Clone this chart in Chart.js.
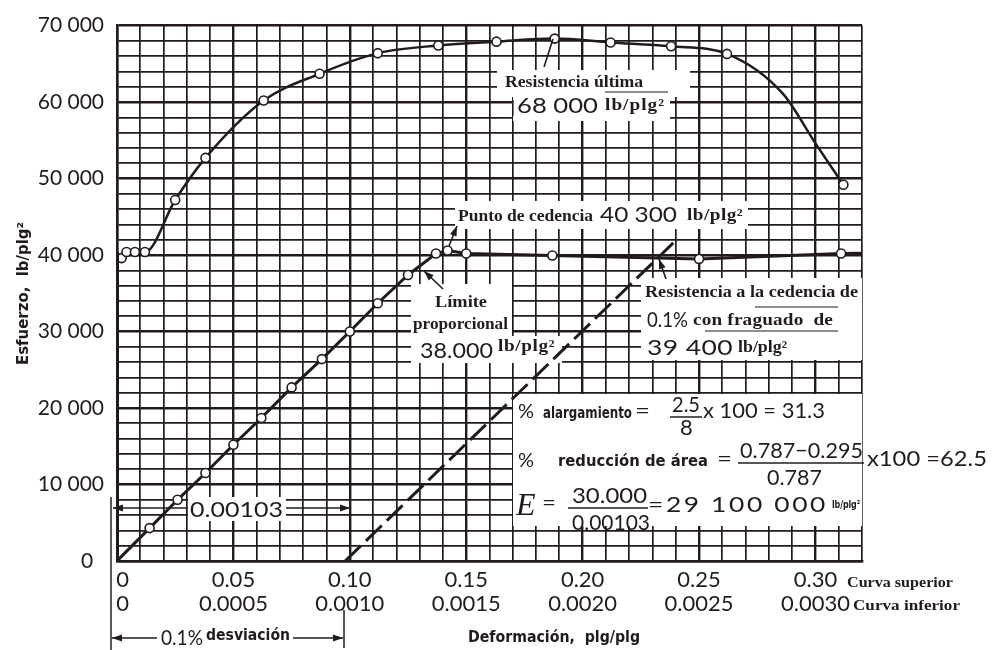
<!DOCTYPE html>
<html>
<head>
<meta charset="utf-8">
<script src="https://cdn.jsdelivr.net/npm/chart.js@4.4.1/dist/chart.umd.min.js"></script>
<style>
  html, body { margin: 0; padding: 0; background: #fff; }
</style>
</head>
<body>
<canvas id="stressChart" width="995" height="650"></canvas>
<script>
// Curva superior: deformación 0 - 0.32 (escala de arriba)
const upperStrain = [0, 0.002, 0.0041, 0.0077, 0.012, 0.025, 0.038, 0.063, 0.087, 0.112, 0.138, 0.163, 0.188, 0.212, 0.238, 0.262, 0.286, 0.300, 0.312];
const upperStress = [40400, 39600, 40400, 40400, 40400, 47200, 52700, 60200, 63700, 66400, 67400, 67900, 68300, 67800, 67300, 66300, 61100, 54600, 49200];
// puntos de la curva leídos sin círculo
const upperNoMark = [0, 16, 17];
// tramo elástico de la curva superior (casi vertical a esta escala)
const upperElasticStrain = [0, 0];
const upperElasticStress = [0, 40400];

// Curva inferior: deformación 0 - 0.0032 (escala de abajo)
const lowerStrain = [0, 0.00014, 0.00026, 0.00038, 0.00050, 0.00062, 0.00075, 0.00088, 0.00100, 0.00112, 0.00125, 0.00137, 0.00142, 0.00150, 0.00187, 0.00250, 0.00311, 0.00320];
const lowerStress = [0, 4300, 8000, 11500, 15200, 18700, 22700, 26400, 30000, 33700, 37400, 40200, 40600, 40200, 39950, 39500, 40200, 40250];
const lowerNoMark = [0, 17];

// línea de 0.1% de desviación (paralela al tramo elástico)
const offsetStrain = [0.00098, 0.0024];
const offsetStress = [0, 41900];

// ejes
const upperTickLabels = ['  0', '0.05', '0.10', '0.15', '0.20', '0.25', '0.30'];
const lowerTickLabels = ['  0', '0.0005', '0.0010', '0.0015', '0.0020', '0.0025', '0.0030'];
const stressTickLabels = ['0  ', '10 000', '20 000', '30 000', '40 000', '50 000', '60 000', '70 000'];

const INK = '#231b1b';
const SANS = 'Lato, "Noto Sans", sans-serif';
const SERIF = '"Liberation Serif", "DejaVu Serif", serif';
const COND = '"DejaVu Sans Condensed", "Liberation Sans Narrow", "DejaVu Sans", sans-serif';

function pts(xs, ys) {
  return xs.map((x, i) => ({ x: x, y: ys[i] }));
}

// texto (left, baseline) ajustado a un ancho: escala horizontal limitada + espaciado
function fit(ctx, str, x, y, font, width) {
  ctx.save();
  ctx.font = font;
  ctx.fillStyle = INK;
  ctx.textAlign = 'left';
  ctx.textBaseline = 'alphabetic';
  ctx.letterSpacing = '0px';
  const w = ctx.measureText(str).width;
  ctx.translate(x, y);
  if (width) {
    const sx = Math.max(0.8, Math.min(1.2, width / w));
    ctx.scale(sx, 1);
    const extra = (width / sx - w) / str.length;
    ctx.letterSpacing = extra.toFixed(2) + 'px';
  }
  ctx.fillText(str, 0, 0);
  ctx.restore();
}

function line(ctx, x1, y1, x2, y2, w) {
  ctx.save();
  ctx.strokeStyle = INK;
  ctx.lineWidth = w || 1.5;
  ctx.beginPath();
  ctx.moveTo(x1, y1);
  ctx.lineTo(x2, y2);
  ctx.stroke();
  ctx.restore();
}

function arrow(ctx, x1, y1, x2, y2, w) {
  line(ctx, x1, y1, x2, y2, w);
  const a = Math.atan2(y2 - y1, x2 - x1);
  const L = 10, H = 3.5;
  ctx.save();
  ctx.fillStyle = INK;
  ctx.beginPath();
  ctx.moveTo(x2, y2);
  ctx.lineTo(x2 - L * Math.cos(a) + H * Math.sin(a), y2 - L * Math.sin(a) - H * Math.cos(a));
  ctx.lineTo(x2 - L * Math.cos(a) - H * Math.sin(a), y2 - L * Math.sin(a) + H * Math.cos(a));
  ctx.closePath();
  ctx.fill();
  ctx.restore();
}

const notes = {
  id: 'notes',
  beforeDatasetsDraw(chart) {
    const ctx = chart.ctx;
    ctx.save();
    ctx.fillStyle = '#fff';
    ctx.fillRect(497, 70, 193, 27);   // resistencia última
    ctx.fillRect(513, 95, 157, 26);
    ctx.fillRect(455, 201, 293, 28);  // punto de cedencia
    ctx.fillRect(411, 284, 101, 54);  // límite proporcional
    ctx.fillRect(411, 336, 151, 27);
    ctx.fillRect(641, 278, 221, 82);  // resistencia a la cedencia
    ctx.fillRect(513, 394, 349, 132); // fórmulas
    ctx.fillRect(188, 497, 98, 24);   // 0.00103
    ctx.restore();
  },
  afterDatasetsDraw(chart) {
    const ctx = chart.ctx;
    const num = '22px ' + SANS;
    const sb = 'bold 16px ' + SERIF;
    const cb = 'bold 15px ' + COND;

    // Resistencia última
    fit(ctx, 'Resistencia última', 505, 87, sb, 138);
    line(ctx, 605, 92, 668, 92, 1.2);
    line(ctx, 513, 100, 513, 116, 1.2);
    fit(ctx, '68 000', 517, 113, num, 81);
    fit(ctx, 'lb/plg²', 605, 110, 'bold 16px ' + SERIF, 60);
    line(ctx, 544, 67, 553, 39, 1.6);

    // Punto de cedencia
    fit(ctx, 'Punto de cedencia', 458, 221, sb, 135);
    fit(ctx, '40 300', 600, 222, num, 77);
    fit(ctx, 'lb/plg²', 687, 220, sb, 56);
    arrow(ctx, 449, 246, 457, 226, 1.6);

    // Límite proporcional
    fit(ctx, 'Límite', 435, 307, sb, 52);
    fit(ctx, 'proporcional', 413, 329, sb, 95);
    fit(ctx, '38.000', 420, 358, num, 73);
    fit(ctx, 'lb/plg²', 498, 351, 'bold 16px ' + SERIF, 57);
    arrow(ctx, 443, 289, 424, 271, 1.6);

    // Resistencia a la cedencia
    fit(ctx, 'Resistencia a la cedencia de', 645, 297, sb, 213);
    fit(ctx, '0.1%', 647, 327, num, 41);
    fit(ctx, 'con fraguado  de', 693, 325, sb, 140);
    line(ctx, 755, 307, 838, 307, 1.2);
    line(ctx, 705, 331, 838, 331, 1.2);
    fit(ctx, '39 400', 647, 355, num, 86);
    fit(ctx, 'lb/plg²', 738, 352, sb, 49);
    arrow(ctx, 666, 279, 659, 259, 1.6);

    // fórmulas
    fit(ctx, '%', 518, 418, '20px ' + SANS);
    fit(ctx, 'alargamiento', 543, 418, cb, 89);
    fit(ctx, '=', 635, 418, num, 15);
    fit(ctx, '2.5', 672, 412, num, 28);
    line(ctx, 670, 417, 702, 417, 1.5);
    fit(ctx, '8', 680, 435, num);
    fit(ctx, 'x 100 = 31.3', 703, 418, num, 122);

    fit(ctx, '%', 518, 467, '20px ' + SANS);
    fit(ctx, 'reducción de área', 558, 466, cb, 150);
    fit(ctx, '=', 717, 466, num, 15);
    fit(ctx, '0.787−0.295', 740, 458, num, 123);
    line(ctx, 738, 463, 864, 463, 1.5);
    fit(ctx, '0.787', 767, 485, num, 55);
    fit(ctx, 'x100 =62.5', 867, 466, num, 120);

    fit(ctx, 'E', 516, 515, 'italic 32px ' + SERIF);
    fit(ctx, '=', 542, 510, num, 14);
    fit(ctx, '30.000', 572, 503, num, 75);
    line(ctx, 568, 508, 648, 508, 1.5);
    fit(ctx, '0.00103', 572, 530, num, 78);
    fit(ctx, '=29 100 000', 648, 512, num, 180);
    fit(ctx, 'lb/plg²', 832, 508, 'bold 11px ' + COND, 28);

    // 0.00103
    fit(ctx, '0.00103', 190, 517, num, 93);
    arrow(ctx, 188, 508, 113, 508, 1.6);
    arrow(ctx, 286, 508, 350, 508, 1.6);
    line(ctx, 111, 497, 111, 650, 1.5);

    // 0.1% desviación
    fit(ctx, '0.1%', 161, 645, '22px ' + SANS, 42);
    fit(ctx, 'desviación', 206, 640, cb, 84);
    arrow(ctx, 157, 638, 112, 638, 1.6);
    arrow(ctx, 293, 638, 343, 638, 1.6);
    line(ctx, 344, 610, 344, 648, 1.5);

    // títulos de ejes
    fit(ctx, 'Deformación,  plg/plg', 468, 642, cb, 172);
    ctx.save();
    ctx.translate(28, 365);
    ctx.rotate(-Math.PI / 2);
    fit(ctx, 'Esfuerzo,  lb/plg²', 0, 0, cb, 143);
    ctx.restore();

    fit(ctx, 'Curva superior', 847, 587, 'bold 15px ' + SERIF, 106);
    fit(ctx, 'Curva inferior', 853, 610, 'bold 15px ' + SERIF, 107);
  }
};

const markRadius = skip => c => (skip.includes(c.dataIndex) ? 0 : 4.5);

new Chart(document.getElementById('stressChart').getContext('2d'), {
  type: 'line',
  data: {
    datasets: [
      {
        label: 'Curva superior (elástica)',
        data: pts(upperElasticStrain, upperElasticStress),
        xAxisID: 'x',
        borderColor: INK,
        borderWidth: 4,
        pointRadius: 0
      },
      {
        label: 'Curva superior',
        data: pts(upperStrain, upperStress),
        xAxisID: 'x',
        borderColor: INK,
        borderWidth: 2.5,
        cubicInterpolationMode: 'monotone',
        pointRadius: markRadius(upperNoMark),
        pointBackgroundColor: '#fff',
        pointBorderColor: INK,
        pointBorderWidth: 1.6
      },
      {
        label: 'Curva inferior',
        data: pts(lowerStrain, lowerStress),
        xAxisID: 'x2',
        borderColor: INK,
        borderWidth: 3,
        tension: 0,
        pointRadius: markRadius(lowerNoMark),
        pointBackgroundColor: '#fff',
        pointBorderColor: INK,
        pointBorderWidth: 1.6
      },
      {
        label: '0.1% desviación',
        data: pts(offsetStrain, offsetStress),
        xAxisID: 'x2',
        borderColor: INK,
        borderWidth: 3,
        borderDash: [22, 7],
        pointRadius: 0
      }
    ]
  },
  options: {
    responsive: false,
    animation: false,
    layout: { padding: { top: 21, right: 133, left: 0, bottom: 0 } },
    plugins: { legend: { display: false }, tooltip: { enabled: false } },
    scales: {
      x: {
        type: 'linear',
        min: 0,
        max: 0.32,
        afterBuildTicks: s => { s.ticks = Array.from({ length: 33 }, (_, i) => ({ value: i / 100 })); },
        afterFit: s => { s.height = 89; },
        grid: {
          color: INK,
          lineWidth: c => (c.index % 5 === 0 ? 2.4 : 1.7),
          drawTicks: false
        },
        border: { color: INK, width: 2.5 },
        ticks: {
          autoSkip: false,
          maxRotation: 0,
          padding: 7,
          color: INK,
          font: { family: SANS, size: 22, lineHeight: 1.09 },
          callback: (v, i) => (i % 5 === 0 ? [upperTickLabels[i / 5], lowerTickLabels[i / 5]] : '')
        }
      },
      x2: {
        type: 'linear',
        min: 0,
        max: 0.0032,
        display: false
      },
      y: {
        type: 'linear',
        min: 0,
        max: 70000,
        afterBuildTicks: s => { s.ticks = Array.from({ length: 36 }, (_, i) => ({ value: i * 2000 })); },
        afterFit: s => { s.width = 117; },
        grid: {
          color: INK,
          lineWidth: c => (c.index % 5 === 0 ? 2.4 : 1.7),
          drawTicks: false
        },
        border: { color: INK, width: 2.5 },
        ticks: {
          autoSkip: false,
          padding: 13,
          color: INK,
          font: { family: SANS, size: 21 },
          callback: (v, i) => (i % 5 === 0 ? stressTickLabels[i / 5] : '')
        }
      }
    }
  },
  plugins: [notes]
});
</script>
</body>
</html>
